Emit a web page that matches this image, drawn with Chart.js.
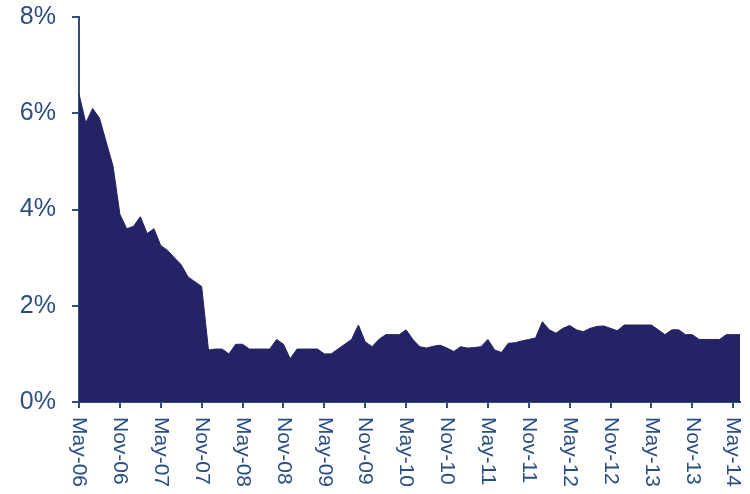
<!DOCTYPE html>
<html>
<head>
<meta charset="utf-8">
<script src="https://cdn.jsdelivr.net/npm/chart.js@4/dist/chart.umd.min.js"></script>
<style>
  html, body { margin: 0; padding: 0; background: #ffffff; }
  #c { display: block; }
</style>
</head>
<body>
<canvas id="c" width="750" height="494"></canvas>
<script>
const categories = [
  'May-06','Jun-06','Jul-06','Aug-06','Sep-06','Oct-06','Nov-06','Dec-06',
  'Jan-07','Feb-07','Mar-07','Apr-07','May-07','Jun-07','Jul-07','Aug-07','Sep-07','Oct-07','Nov-07','Dec-07',
  'Jan-08','Feb-08','Mar-08','Apr-08','May-08','Jun-08','Jul-08','Aug-08','Sep-08','Oct-08','Nov-08','Dec-08',
  'Jan-09','Feb-09','Mar-09','Apr-09','May-09','Jun-09','Jul-09','Aug-09','Sep-09','Oct-09','Nov-09','Dec-09',
  'Jan-10','Feb-10','Mar-10','Apr-10','May-10','Jun-10','Jul-10','Aug-10','Sep-10','Oct-10','Nov-10','Dec-10',
  'Jan-11','Feb-11','Mar-11','Apr-11','May-11','Jun-11','Jul-11','Aug-11','Sep-11','Oct-11','Nov-11','Dec-11',
  'Jan-12','Feb-12','Mar-12','Apr-12','May-12','Jun-12','Jul-12','Aug-12','Sep-12','Oct-12','Nov-12','Dec-12',
  'Jan-13','Feb-13','Mar-13','Apr-13','May-13','Jun-13','Jul-13','Aug-13','Sep-13','Oct-13','Nov-13','Dec-13',
  'Jan-14','Feb-14','Mar-14','Apr-14','May-14','Jun-14'
];

const values = [
  6.4, 5.8, 6.1, 5.9, 5.4, 4.9, 3.9, 3.6,
  3.65, 3.85, 3.5, 3.6, 3.25, 3.15, 3.0, 2.85, 2.6, 2.5, 2.4, 1.08,
  1.1, 1.1, 1.0, 1.2, 1.2, 1.1, 1.1, 1.1, 1.1, 1.3, 1.2, 0.9,
  1.1, 1.1, 1.1, 1.1, 1.0, 1.0, 1.1, 1.2, 1.3, 1.6, 1.25, 1.15,
  1.3, 1.4, 1.4, 1.4, 1.5, 1.3, 1.15, 1.12, 1.16, 1.18, 1.12, 1.05,
  1.15, 1.12, 1.13, 1.15, 1.3, 1.08, 1.03, 1.22, 1.23, 1.27, 1.3, 1.33,
  1.67, 1.5, 1.43, 1.53, 1.59, 1.5, 1.46, 1.53, 1.57, 1.58, 1.53, 1.48,
  1.6, 1.6, 1.6, 1.6, 1.6, 1.5, 1.4, 1.5, 1.5, 1.4, 1.4, 1.3,
  1.3, 1.3, 1.3, 1.4, 1.4, 1.4
];

const xTickLabels = [
  'May-06','Nov-06','May-07','Nov-07','May-08','Nov-08','May-09','Nov-09',
  'May-10','Nov-10','May-11','Nov-11','May-12','Nov-12','May-13','Nov-13','May-14'
];

const yTicks = [0, 2, 4, 6, 8];

const AXIS_COLOR = '#2b4f84';
const TEXT_COLOR = '#2b4f84';
const FILL_COLOR = '#232366';
const FONT_FAMILY = '"Liberation Sans", Arial, Helvetica, sans-serif';

const rotatedLabels = {
  id: 'rotatedLabels',
  afterDraw(chart) {
    const xs = chart.scales.x;
    const ctx = chart.ctx;
    ctx.save();
    ctx.fillStyle = TEXT_COLOR;
    ctx.font = '21px ' + FONT_FAMILY;
    ctx.textAlign = 'left';
    ctx.textBaseline = 'middle';
    xTickLabels.forEach(lbl => {
      const idx = categories.indexOf(lbl);
      if (idx < 0) return;
      const x = xs.getPixelForValue(idx);
      const y = chart.chartArea.bottom + 15;
      ctx.save();
      ctx.translate(x, y);
      ctx.rotate(Math.PI / 2);
      ctx.fillText(lbl, 0, 0);
      ctx.restore();
    });
    ctx.restore();
  }
};

new Chart(document.getElementById('c'), {
  type: 'line',
  data: {
    labels: categories,
    datasets: [{
      data: values,
      fill: 'origin',
      backgroundColor: FILL_COLOR,
      borderColor: FILL_COLOR,
      borderWidth: 1,
      pointRadius: 0,
      tension: 0
    }]
  },
  options: {
    responsive: false,
    animation: false,
    devicePixelRatio: 1,
    layout: { padding: { top: 17, right: 10, left: 0, bottom: 0 } },
    plugins: {
      legend: { display: false },
      tooltip: { enabled: false }
    },
    scales: {
      x: {
        type: 'category',
        offset: false,
        ticks: { display: false, autoSkip: false },
        grid: {
          drawOnChartArea: false,
          drawTicks: true,
          tickLength: 6,
          lineWidth: 2,
          color: (c) => (c.index % 6 === 0 ? AXIS_COLOR : 'rgba(0,0,0,0)')
        },
        border: { display: true, color: AXIS_COLOR, width: 2 },
        afterFit(scale) {
          scale.height = 92;
          scale.paddingLeft = 0; scale.paddingRight = 0;
        }
      },
      y: {
        min: 0,
        max: 8,
        afterBuildTicks(scale) { scale.ticks = yTicks.map(v => ({ value: v })); },
        ticks: {
          color: TEXT_COLOR,
          font: { family: FONT_FAMILY, size: 25 },
          padding: 16,
          callback: (v) => v + '%'
        },
        grid: {
          drawOnChartArea: false,
          drawTicks: true,
          tickLength: 7,
          lineWidth: 2,
          color: AXIS_COLOR
        },
        border: { display: true, color: AXIS_COLOR, width: 2 },
        afterFit(scale) {
          scale.width = 79;
          scale.paddingTop = 0; scale.paddingBottom = 0;
        }
      }
    }
  },
  plugins: [rotatedLabels]
});
</script>
</body>
</html>
